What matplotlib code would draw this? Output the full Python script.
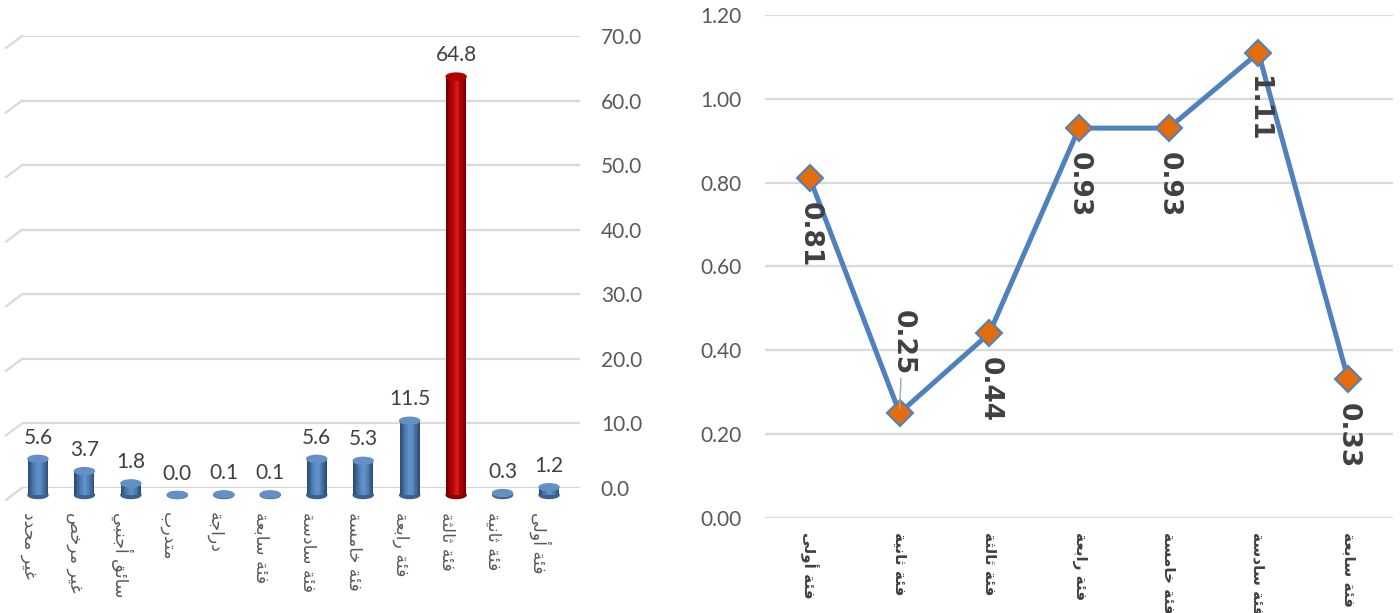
import matplotlib
matplotlib.use('Agg')
import matplotlib.pyplot as plt
import matplotlib.transforms as mtransforms
from matplotlib.colors import to_rgb
from matplotlib.patches import Ellipse

# left chart: share per licence type (category order right to left)
bar_labels = ['فئة أولى', 'فئة ثانية', 'فئة ثالثة', 'فئة رابعة', 'فئة خامسة',
              'فئة سادسة', 'فئة سابعة', 'دراجة', 'متدرب', 'سائق أجنبي',
              'غير مرخص', 'غير محدد']
bar_values = [1.2, 0.3, 64.8, 11.5, 5.3, 5.6, 0.1, 0.1, 0.0, 1.8, 3.7, 5.6]
bar_ticks = [0, 10, 20, 30, 40, 50, 60, 70]

# right chart: rate per licence class
line_labels = ['فئة أولى', 'فئة ثانية', 'فئة ثالثة', 'فئة رابعة', 'فئة خامسة',
               'فئة سادسة', 'فئة سابعة']
line_values = [0.81, 0.25, 0.44, 0.93, 0.93, 1.11, 0.33]
line_ticks = [0.0, 0.2, 0.4, 0.6, 0.8, 1.0, 1.2]

# arabic letters -> (isolated presentation form, joins to the following letter)
FORMS = {
    'ا': (0xFE8D, False), 'أ': (0xFE83, False), 'ب': (0xFE8F, True),
    'ة': (0xFE93, False), 'ت': (0xFE95, True), 'ث': (0xFE99, True),
    'ج': (0xFE9D, True), 'ح': (0xFEA1, True), 'خ': (0xFEA5, True),
    'د': (0xFEA9, False), 'ر': (0xFEAD, False), 'س': (0xFEB1, True),
    'ص': (0xFEB9, True), 'ع': (0xFEC9, True), 'غ': (0xFECD, True),
    'ف': (0xFED1, True), 'ق': (0xFED5, True), 'ل': (0xFEDD, True),
    'م': (0xFEE1, True), 'ن': (0xFEE5, True), 'و': (0xFEED, False),
    'ى': (0xFEEF, False), 'ي': (0xFEF1, True), 'ئ': (0xFE89, True),
}


def shape(text):
    '''join arabic letters and put them in visual order'''
    out = []
    for i, ch in enumerate(text):
        if ch not in FORMS:
            out.append(ch)
            continue
        base, dual = FORMS[ch]
        prev = text[i - 1] if i > 0 else ''
        nxt = text[i + 1] if i + 1 < len(text) else ''
        join_prev = prev in FORMS and FORMS[prev][1]
        join_next = dual and nxt in FORMS
        if join_prev and join_next:
            code = base + 3
        elif join_prev:
            code = base + 1
        elif join_next:
            code = base + 2
        else:
            code = base
        out.append(chr(code))
    return ''.join(out)[::-1]


def tint(color, f):
    r, g, b = to_rgb(color)
    if f <= 1:
        return (r * f, g * f, b * f)
    t = f - 1
    return (r + (1 - r) * t, g + (1 - g) * t, b + (1 - b) * t)


num_font = ['Lato', 'DejaVu Sans']
grid_color = '#D9D9D9'
text_color = '#595959'

fig = plt.figure(figsize=(14, 6.13), dpi=100)

# ---------------- left: cylinder bars ----------------
ax1 = fig.add_axes([22 / 1400, (613 - 488) / 613, 558 / 1400, 452 / 613])
ax1.set_xlim(11.15, -0.86)
ax1.set_ylim(0, 70)
for s in ax1.spines.values():
    s.set_visible(False)
ax1.set_yticks(bar_ticks)
ax1.yaxis.tick_right()
ax1.set_yticklabels([f'{t:.1f}' for t in bar_ticks], family=num_font,
                    fontsize=15, color=text_color)
ax1.tick_params(axis='y', length=0, pad=15)
ax1.set_xticks(range(len(bar_labels)))
ax1.set_xticklabels([shape(t) for t in bar_labels], rotation=-90, va='top',
                    ha='center', family='DejaVu Sans', fontsize=12.5,
                    color=text_color)
ax1.tick_params(axis='x', length=0, pad=17)
ax1.grid(axis='y', color=grid_color, lw=1.6)
ax1.set_axisbelow(True)

# side wall of the 3d frame
side = mtransforms.blended_transform_factory(ax1.transAxes, ax1.transData)
for t in bar_ticks:
    ax1.plot([0, -16 / 558], [t, t - 12 * 70 / 452], color=grid_color, lw=1.6,
             transform=side, clip_on=False)

# bars sit a little in front of the back wall
bar_trans = ax1.transData + mtransforms.ScaledTranslation(9 / 100, -7 / 100,
                                                            fig.dpi_scale_trans)
width = 0.43
n_strips = 14
profile = [0.62, 0.72, 0.82, 0.92, 1.0, 1.08, 1.12, 1.1, 1.04, 0.98, 0.9,
           0.8, 0.7, 0.6]
cap_h = 7 * 70 / 452
top_val = max(bar_values)
for i, v in enumerate(bar_values):
    base = '#C00000' if v == top_val else '#4F81BD'
    ax1.add_patch(Ellipse((i, 0), width, cap_h, color=tint(base, 0.75),
                          transform=bar_trans, zorder=2, clip_on=False))
    for k in range(n_strips):
        xk = i - width / 2 + (k + 0.5) * width / n_strips
        ax1.bar(xk, v, width=width / n_strips * 1.05, color=tint(base, profile[k]),
                lw=0, transform=bar_trans, zorder=3, clip_on=False)
    ax1.add_patch(Ellipse((i, v), width, cap_h,
                          color=tint(base, 1.12 if v != top_val else 0.92),
                          transform=bar_trans, zorder=4, clip_on=False))
    ax1.annotate(f'{v:.1f}', (i, v), xytext=(6.5, 6), textcoords='offset points',
                 ha='center', va='baseline', family=num_font, fontsize=15,
                 color='#404040')

# ---------------- right: line with markers ----------------
ax2 = fig.add_axes([765 / 1400, (613 - 517.7) / 613, 628 / 1400, 502.7 / 613])
ax2.set_xlim(-0.5, len(line_values) - 0.5)
ax2.set_ylim(0, 1.2)
for s in ax2.spines.values():
    s.set_visible(False)
ax2.set_yticks(line_ticks)
ax2.set_yticklabels([f'{t:.2f}' for t in line_ticks], family=num_font,
                    fontsize=15, color=text_color)
ax2.tick_params(axis='y', length=0, pad=17)
ax2.set_xticks(range(len(line_labels)))
ax2.set_xticklabels([shape(t) for t in line_labels], rotation=-90, va='top',
                    ha='center', family='DejaVu Sans', fontweight='bold',
                    fontsize=11, color='#404040')
ax2.tick_params(axis='x', length=0, pad=10)
ax2.grid(axis='y', color=grid_color, lw=1.6)
ax2.set_axisbelow(True)

xs = list(range(len(line_values)))
ax2.plot(xs, line_values, color='#4F81BD', lw=3.6, marker='D', ms=13.5,
         mfc='#E46C0A', mec='#4F81BD', mew=1.5, zorder=3, clip_on=False)

for x, v in zip(xs, line_values):
    if v == min(line_values):
        ax2.annotate(f'{v:.2f}', (x, v), xytext=(2, 27),
                     textcoords='offset points', rotation=-90, ha='center',
                     va='bottom', family='DejaVu Sans', fontweight='bold',
                     fontsize=19, color='#404040',
                     arrowprops=dict(arrowstyle='-', color='#A6A6A6', lw=1,
                                     shrinkA=0, shrinkB=3))
    else:
        ax2.annotate(f'{v:.2f}', (x, v), xytext=(0, -17),
                     textcoords='offset points', rotation=-90, ha='center',
                     va='top', family='DejaVu Sans', fontweight='bold',
                     fontsize=19, color='#404040')

fig.savefig('out.png', dpi=100)
